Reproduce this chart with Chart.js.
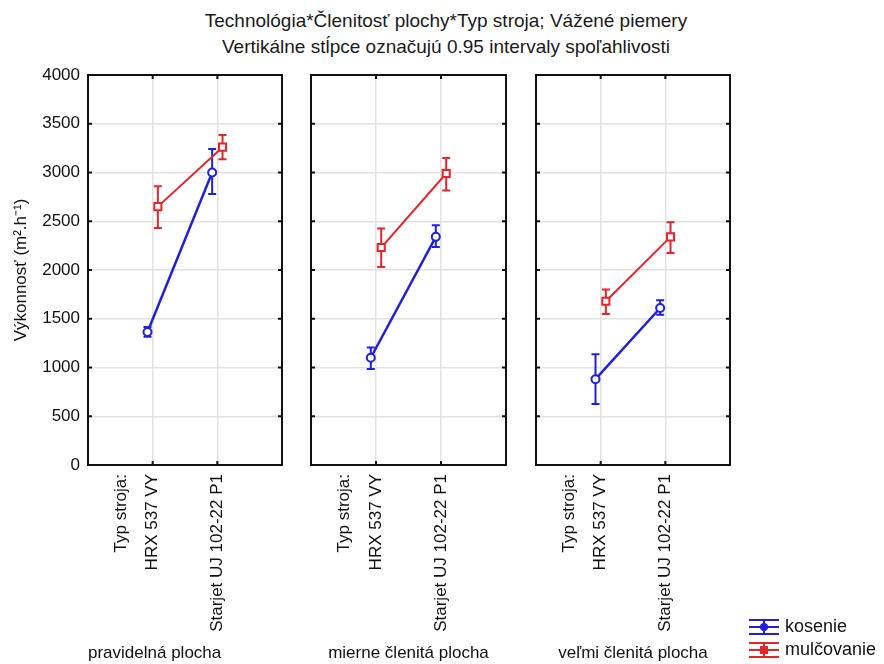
<!DOCTYPE html>
<html>
<head>
<meta charset="utf-8">
<script src="https://cdn.jsdelivr.net/npm/chart.js@4.4.0/dist/chart.umd.min.js"></script>
<style>
  html, body { margin: 0; padding: 0; background: #fff; }
  #wrap { position: relative; width: 884px; height: 664px; overflow: hidden; font-family: Arial, "Liberation Sans", sans-serif; }
  .title { position: absolute; left: 0; width: 892px; top: 8px; text-align: center; font-size: 19px; line-height: 26px; color: #1a1a1a; }
  canvas { position: absolute; top: 0; }
</style>
</head>
<body>
<div id="wrap">
  <div class="title">Technológia*Členitosť plochy*Typ stroja; Vážené piemery<br>Vertikálne stĺpce označujú 0.95 intervaly spoľahlivosti</div>
  <canvas id="c0" width="300" height="664" style="left:0px"></canvas>
  <canvas id="c1" width="220" height="664" style="left:296px"></canvas>
  <canvas id="c2" width="364" height="664" style="left:520px"></canvas>
</div>
<script>
// categories
const panels = ["pravidelná plocha", "mierne členitá plocha", "veľmi členitá plocha"];
const machines = ["HRX 537 VY", "Starjet UJ 102-22 P1"];
const series = ["kosenie", "mulčovanie"];
const yTitle = "Výkonnosť (m².h⁻¹)";

// weighted means and 0.95 CI, one row per panel: [HRX, Starjet]
const kosenieMean = [[1365, 3000], [1100, 2340], [880, 1610]];
const kosenieLow  = [[1315, 2780], [985, 2235], [625, 1540]];
const kosenieHigh = [[1415, 3240], [1205, 2460], [1135, 1690]];
const mulcMean = [[2650, 3260], [2230, 2990], [1680, 2340]];
const mulcLow  = [[2430, 3135], [2030, 2815], [1550, 2175]];
const mulcHigh = [[2860, 3385], [2425, 3150], [1800, 2490]];

const BLUE = "#2020dc";
const RED = "#e4252a";
const FONT = "Arial, 'Liberation Sans', sans-serif";

const decor = {
  id: "decor",
  beforeDatasetDraw(chart, args) {
    const ds = chart.data.datasets[args.index];
    const y = chart.scales.y;
    const ctx = chart.ctx;
    ctx.save();
    ctx.strokeStyle = ds.borderColor;
    ctx.lineWidth = 2;
    args.meta.data.forEach((pt, i) => {
      const top = y.getPixelForValue(ds.errHigh[i]);
      const bot = y.getPixelForValue(ds.errLow[i]);
      ctx.beginPath();
      ctx.moveTo(pt.x, top); ctx.lineTo(pt.x, bot);
      ctx.moveTo(pt.x - 4, top); ctx.lineTo(pt.x + 4, top);
      ctx.moveTo(pt.x - 4, bot); ctx.lineTo(pt.x + 4, bot);
      ctx.stroke();
    });
    ctx.restore();
  },
  afterDraw(chart) {
    const { ctx, chartArea: a, scales } = chart;
    ctx.save();
    ctx.strokeStyle = "#111";
    ctx.lineWidth = 2;
    ctx.strokeRect(a.left, a.top, a.right - a.left, a.bottom - a.top);
    ctx.beginPath();
    for (let v = 500; v < 4000; v += 500) {
      const py = scales.y.getPixelForValue(v);
      ctx.moveTo(a.left, py); ctx.lineTo(a.left + 4, py);
      ctx.moveTo(a.right, py); ctx.lineTo(a.right - 4, py);
    }
    [1, 2].forEach(v => {
      const px = scales.x.getPixelForValue(v);
      ctx.moveTo(px, a.top); ctx.lineTo(px, a.top + 4);
      ctx.moveTo(px, a.bottom); ctx.lineTo(px, a.bottom - 4);
    });
    ctx.stroke();
    ctx.restore();

    if (chart.options.plugins.decor && chart.options.plugins.decor.legend) {
      drawLegend(chart);
    }
  }
};

function drawLegend(chart) {
  const ctx = chart.ctx;
  const items = [
    { label: series[0], color: BLUE, style: "circle", cy: 627 },
    { label: series[1], color: RED, style: "rect", cy: 650 }
  ];
  const x0 = 229, w = 30;
  ctx.save();
  items.forEach(it => {
    const cx = x0 + w / 2;
    ctx.strokeStyle = it.color;
    ctx.lineWidth = 2;
    ctx.beginPath();
    ctx.moveTo(x0, it.cy - 7); ctx.lineTo(x0 + w, it.cy - 7);
    ctx.moveTo(x0, it.cy); ctx.lineTo(x0 + w, it.cy);
    ctx.moveTo(x0, it.cy + 7); ctx.lineTo(x0 + w, it.cy + 7);
    ctx.moveTo(cx, it.cy - 7); ctx.lineTo(cx, it.cy + 7);
    ctx.stroke();
    ctx.fillStyle = it.color;
    if (it.style === "circle") {
      ctx.beginPath(); ctx.arc(cx, it.cy, 4, 0, Math.PI * 2); ctx.fill();
    } else {
      ctx.fillRect(cx - 4, it.cy - 4, 8, 8);
    }
    ctx.fillStyle = "#111";
    ctx.font = "18px " + FONT;
    ctx.textBaseline = "middle";
    ctx.fillText(it.label, x0 + w + 6, it.cy);
  });
  ctx.restore();
}

// position of the "Typ stroja:" caption, left of the first machine
const typPos = 0.52;
const offset = 0.08;

function makeChart(id, p, yAxisWidth, padRight, first, legend) {
  const ds = [
    {
      label: series[1],
      data: mulcMean[p].map((v, i) => ({ x: i + 1 + offset, y: v })),
      errLow: mulcLow[p], errHigh: mulcHigh[p],
      borderColor: RED, borderWidth: 2,
      pointStyle: "rect", pointRadius: 5,
      pointBackgroundColor: "#fff", pointBorderColor: RED, pointBorderWidth: 2,
      order: 0
    },
    {
      label: series[0],
      data: kosenieMean[p].map((v, i) => ({ x: i + 1 - offset, y: v })),
      errLow: kosenieLow[p], errHigh: kosenieHigh[p],
      borderColor: BLUE, borderWidth: 2.5,
      pointStyle: "circle", pointRadius: 4,
      pointBackgroundColor: "#fff", pointBorderColor: BLUE, pointBorderWidth: 2,
      order: 1
    }
  ];

  return new Chart(document.getElementById(id), {
    type: "line",
    data: { datasets: ds },
    plugins: [decor],
    options: {
      responsive: false,
      animation: false,
      layout: { padding: { top: 75, right: padRight, bottom: 0, left: 0 } },
      plugins: {
        legend: { display: false },
        tooltip: { enabled: false },
        decor: { legend: legend }
      },
      scales: {
        x: {
          type: "linear", min: 0, max: 3,
          afterBuildTicks: s => { s.ticks = [{ value: typPos }, { value: 1 }, { value: 2 }]; },
          afterFit: s => { s.height = 199; },
          border: { display: false },
          grid: {
            drawTicks: false,
            lineWidth: 1.5,
            color: c => (c.tick && c.tick.value === typPos) ? "rgba(0,0,0,0)" : "#e2e2e2"
          },
          ticks: {
            autoSkip: false, minRotation: 90, maxRotation: 90, padding: 9,
            color: "#111", font: { family: FONT, size: 17 },
            callback: v => v === typPos ? "Typ stroja:" : machines[v - 1]
          },
          title: {
            display: true, text: panels[p], align: first ? "start" : "center",
            color: "#111", font: { family: FONT, size: 17 }, padding: { top: 0, bottom: 0 }
          }
        },
        y: {
          min: 0, max: 4000,
          afterFit: s => { s.width = yAxisWidth; },
          border: { display: false },
          grid: { drawTicks: false, lineWidth: 1.5, color: "#e2e2e2" },
          ticks: {
            display: first, stepSize: 500, padding: 8,
            color: "#111", font: { family: FONT, size: 17 },
            callback: v => String(v)
          },
          title: {
            display: first, text: yTitle,
            color: "#111", font: { family: FONT, size: 17 }, padding: { top: 11, bottom: 0 }
          }
        }
      }
    }
  });
}

makeChart("c0", 0, 88, 18, true, false);
makeChart("c1", 1, 15, 10, false, false);
makeChart("c2", 2, 16, 154, false, true);
</script>
</body>
</html>
